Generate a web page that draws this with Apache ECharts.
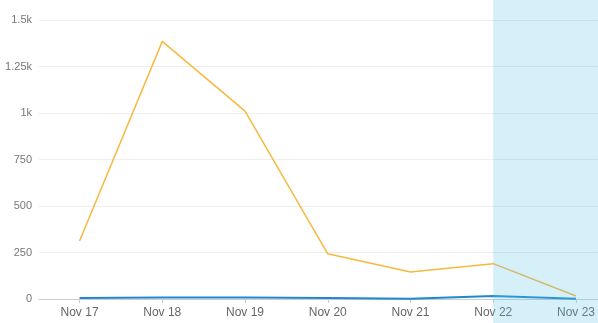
<!DOCTYPE html>
<html>
<head>
<meta charset="utf-8">
<script src="https://cdn.jsdelivr.net/npm/echarts@6/dist/echarts.min.js"></script>
<style>
  html, body { margin: 0; padding: 0; background: #fff; }
  #chart { width: 598px; height: 323px; }
</style>
</head>
<body>
<div id="chart"></div>
<script>
// days shown on the x axis (local dates)
const days = [
  [2023, 10, 17], [2023, 10, 18], [2023, 10, 19], [2023, 10, 20],
  [2023, 10, 21], [2023, 10, 22], [2023, 10, 23]
];
const yellowValues = [312, 1385, 1010, 243, 145, 190, 16];
const blueValues = [5, 8, 8, 5, 1, 16, 2];
const shadeFromDay = 5; // index in days where the shaded period starts

const DAY = 86400000;
const times = days.map((d) => new Date(d[0], d[1], d[2]).getTime());

const chart = echarts.init(document.getElementById("chart"));

const fmtY = (v) => (v >= 1000 ? v / 1000 + "k" : String(v));

const option = {
  animation: false,
  grid: { left: 39, right: 0, top: 20, bottom: 24 },
  xAxis: {
    type: "time",
    min: times[0] - 0.49 * DAY,
    max: times[times.length - 1] + 0.265 * DAY,
    minInterval: DAY,
    maxInterval: DAY,
    axisLine: { lineStyle: { color: "#ccc" } },
    axisTick: { show: true, length: 4, lineStyle: { color: "#ccc" } },
    splitLine: { show: false },
    axisLabel: {
      color: "#666",
      fontSize: 12,
      fontFamily: "Liberation Sans, Arial, sans-serif",
      margin: 8,
      showMinLabel: false,
      showMaxLabel: false,
      formatter: (v) => {
        const d = new Date(v);
        const m = ["Jan","Feb","Mar","Apr","May","Jun","Jul","Aug","Sep","Oct","Nov","Dec"][d.getMonth()];
        return m + " " + d.getDate();
      },
    },
  },
  yAxis: {
    type: "value",
    min: 0,
    max: 1500,
    interval: 250,
    axisLine: { show: false },
    axisTick: { show: false },
    splitLine: { lineStyle: { color: "#eee" } },
    axisLabel: {
      color: "#777",
      fontSize: 11,
      fontFamily: "Liberation Sans, Arial, sans-serif",
      margin: 7,
      formatter: fmtY,
    },
  },
  series: [
    {
      name: "yellow",
      type: "line",
      data: times.map((t, i) => [t, yellowValues[i]]),
      showSymbol: false,
      lineStyle: { color: "#f6b940", width: 1.5 },
      z: 2,
    },
    {
      name: "blue",
      type: "line",
      data: times.map((t, i) => [t, blueValues[i]]),
      showSymbol: false,
      lineStyle: { color: "#1e88d2", width: 2 },
      z: 3,
    },
  ],
};

chart.setOption(option);

// shaded period: from its first day to the right edge, full height, over the lines
const shadeX = chart.convertToPixel({ xAxisIndex: 0 }, times[shadeFromDay]);
chart.setOption({
  graphic: [
    {
      type: "rect",
      shape: { x: shadeX, y: 0, width: 598 - shadeX, height: 323 },
      style: { fill: "rgba(90, 195, 235, 0.25)" },
      z: 100,
      silent: true,
    },
  ],
});
</script>
</body>
</html>
